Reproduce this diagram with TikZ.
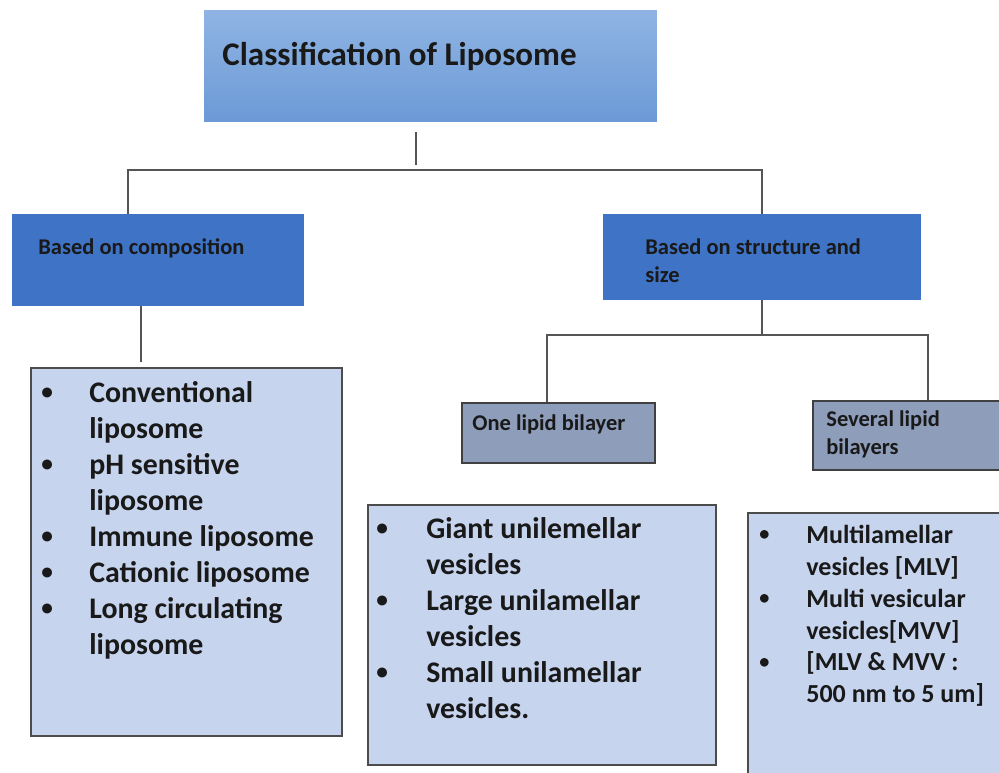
\documentclass[tikz,border=0pt]{standalone}
\usepackage{fontspec}
\setmainfont{Carlito}

\definecolor{titletop}{HTML}{8FB4E3}
\definecolor{titlebot}{HTML}{6C9AD6}
\definecolor{catblue}{HTML}{3E73C5}
\definecolor{subgray}{HTML}{8E9DBA}
\definecolor{listfill}{HTML}{C6D4EE}
\definecolor{edgegray}{HTML}{555555}

\newcommand{\titlefont}{\fontsize{18.8}{22}\selectfont\bfseries}
\newcommand{\labelfont}{\fontsize{12.8}{15.94}\selectfont\bfseries}
\newcommand{\listfont}{\fontsize{17}{20.49}\selectfont\bfseries}
\newcommand{\narrowfont}{\fontsize{14.8}{18.21}\selectfont\bfseries}
\newcommand{\dotmark}{\raisebox{0.09em}{\scalebox{0.78}{\textbullet}}}

\tikzset{
	titlebox/.style={rectangle, inner sep=0pt, top color=titletop, bottom color=titlebot},
	catbox/.style={rectangle, inner sep=0pt, fill=catblue},
	subbox/.style={rectangle, inner sep=0pt, fill=subgray, draw=black!75, line width=1.1pt},
	listbox/.style={rectangle, inner sep=0pt, fill=listfill, draw=black!70, line width=1.1pt},
	conn/.style={draw=edgegray, line width=1.1pt},
	txt/.style={inner sep=0pt, anchor=base west, text=black!90},
}

\begin{document}
\begin{tikzpicture}[x=0.02cm, y=-0.02cm]
	\useasboundingbox (0,0) rectangle (999,772);
	\clip (0,0) rectangle (999,772);
	\fill[white] (0,0) rectangle (999,772);

	% boxes
	\node[titlebox, minimum width=9.06cm, minimum height=2.24cm] (title) at (430.5,66) {};
	\node[catbox, minimum width=5.84cm, minimum height=1.84cm] (comp) at (158,260) {};
	\node[catbox, minimum width=6.36cm, minimum height=1.72cm] (struct) at (762,257) {};
	\node[subbox, minimum width=3.86cm, minimum height=1.2cm] (one) at (558.5,433) {};
	\node[subbox, minimum width=3.94cm, minimum height=1.38cm] (several) at (911.5,435.5) {};
	\node[listbox, minimum width=6.22cm, minimum height=7.36cm] (complist) at (186.5,552) {};
	\node[listbox, minimum width=6.96cm, minimum height=5.2cm] (unilist) at (542,635) {};
	\node[listbox, minimum width=5.34cm, minimum height=5.64cm] (multilist) at (881.5,654) {};

	% texts
	\node[txt, font=\titlefont] (titletxt) at (222,65) {Classification of Liposome};
	\node[txt, font=\labelfont] (comptxt) at (38,254) {Based on composition};
	\node[txt, font=\labelfont] (structtxt) at (645,254) {\begin{tabular}[t]{@{}l@{}}Based on structure and\\size\end{tabular}};
	\node[txt, font=\labelfont] (onetxt) at (472,430) {One lipid bilayer};
	\node[txt, font=\labelfont] (severaltxt) at (826,426) {\begin{tabular}[t]{@{}l@{}}Several lipid\\bilayers\end{tabular}};

	\node[txt, font=\listfont] (complisttxt) at (41,402) {\begin{tabular}[t]{@{}p{0.96cm}@{}l@{}}
		\dotmark & Conventional\\
		 & liposome\\
		\dotmark & pH sensitive\\
		 & liposome\\
		\dotmark & Immune liposome\\
		\dotmark & Cationic liposome\\
		\dotmark & Long circulating\\
		 & liposome
	\end{tabular}};
	\node[txt, font=\listfont] (unilisttxt) at (376,538) {\begin{tabular}[t]{@{}p{1.0cm}@{}l@{}}
		\dotmark & Giant unilemellar\\
		 & vesicles\\
		\dotmark & Large unilamellar\\
		 & vesicles\\
		\dotmark & Small unilamellar\\
		 & vesicles.
	\end{tabular}};
	\node[txt, font=\narrowfont] (multilisttxt) at (759,543) {\begin{tabular}[t]{@{}p{0.94cm}@{}l@{}}
		\dotmark & Multilamellar\\
		 & vesicles [MLV]\\
		\dotmark & Multi vesicular\\
		 & vesicles[MVV]\\
		\dotmark & [MLV \& MVV :\\
		 & 500 nm to 5 um]
	\end{tabular}};

	% connectors
	\coordinate (jt) at (416,170);
	\coordinate (ja) at (128,170);
	\coordinate (jb) at (762,170);
	\coordinate (jc) at (141,362);
	\coordinate (jd) at (762,335);
	\coordinate (je) at (547,335);
	\coordinate (jf) at (928,335);
	\draw[conn] ([yshift=-0.2cm]title.south -| jt) -- ([yshift=0.1cm]jt);
	\draw[conn] (comp.north -| ja) -- (ja) -- (jb) -- (struct.north);
	\draw[conn] (comp.south -| jc) -- (jc);
	\draw[conn] (struct.south) -- (jd);
	\draw[conn] (one.north -| je) -- (je) -- (jf) -- (several.north -| jf);
\end{tikzpicture}
\end{document}
